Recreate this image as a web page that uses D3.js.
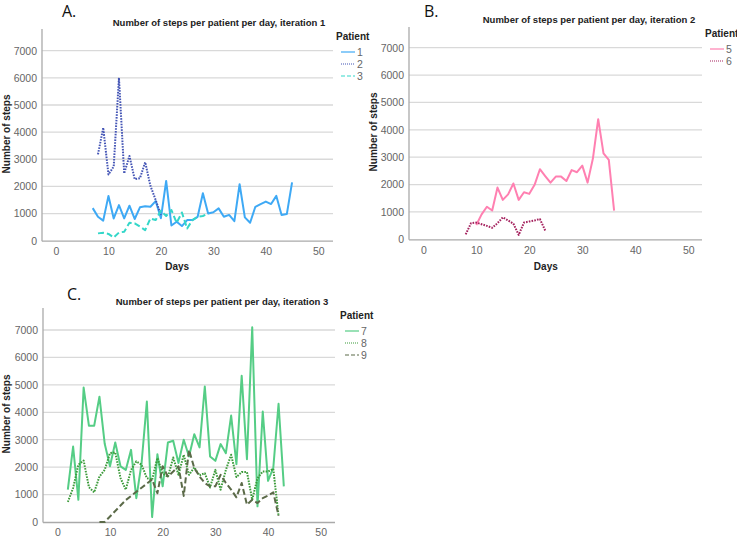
<!DOCTYPE html>
<html><head><meta charset="utf-8">
<script src="https://cdn.jsdelivr.net/npm/d3@7"></script>
<style>body{margin:0;background:#fff}svg{display:block}</style>
</head><body>
<script>
// ---------- DATA ----------
const xTicks = [0, 10, 20, 30, 40, 50];
const yTicks = [0, 1000, 2000, 3000, 4000, 5000, 6000, 7000];

const p1Days = [7,8,9,10,11,12,13,14,15,16,17,18,19,20,21,22,23,24,25,26,27,28,29,30,31,32,33,34,35,36,37,38,39,40,41,42,43,44,45];
const p1Steps = [1200,880,740,1650,820,1310,820,1290,800,1230,1270,1250,1460,830,2200,560,700,540,760,760,880,1750,1000,1050,1190,880,950,720,2080,860,660,1250,1350,1440,1350,1650,950,980,2150];
const p2Days = [8,9,10,11,12,13,14,15,16,17,18,19,20];
const p2Steps = [3180,4160,2440,2730,6000,2480,3120,2270,2300,2890,2020,1500,950];
const p3Days = [8,9,10,11,12,13,14,15,16,17,18,19,20,21,22,23,24,25,26,27,28,29];
const p3Steps = [270,290,250,120,300,330,660,640,520,390,820,760,1100,910,1130,660,1040,450,760,880,910,1000];

const p5Days = [10,11,12,13,14,15,16,17,18,19,20,21,22,23,24,25,26,27,28,29,30,31,32,33,34,35,36];
const p5Steps = [520,910,1190,1050,1890,1440,1640,2040,1440,1720,1660,1990,2560,2310,2070,2290,2290,2130,2530,2450,2690,2070,2950,4390,3140,2900,1050];
const p6Days = [8,9,10,11,12,13,14,15,16,17,18,19,20,21,22,23];
const p6Steps = [180,590,610,550,490,420,590,800,690,570,160,610,650,690,740,320];

const p7Days = [2,3,4,5,6,7,8,9,10,11,12,13,14,15,16,17,18,19,20,21,22,23,24,25,26,27,28,29,30,31,32,33,34,35,36,37,38,39,40,41,42,43];
const p7Steps = [1180,2750,810,4900,3510,3510,4570,2850,2030,2900,2030,1900,2630,870,2150,4390,180,2470,1300,2900,2960,2150,3000,2390,3200,2720,4940,2390,2230,2840,2510,3880,2110,5330,2290,7100,570,4030,1500,1970,4310,1300];
const p8Days = [2,3,4,5,6,7,8,9,10,11,12,13,14,15,16,17,18,19,20,21,22,23,24,25,26,27,28,29,30,31,32,33,34,35,36,37,38,39,40,41,42];
const p8Steps = [730,1240,2090,2240,1270,1080,1660,1900,2510,2540,1600,1180,1900,2210,2090,1600,1540,2330,1780,1640,2350,1720,2450,1720,1990,1700,1780,1260,1900,1180,1900,2450,1640,1820,1820,810,1600,1840,1840,1940,220];
const p9Days = [8,9,10,11,12,13,14,15,16,17,18,19,20,21,22,23,24,25,26,27,28,29,30,31,32,33,34,35,36,37,38,39,40,41,42];
const p9Steps = [0,0,200,400,600,800,950,1100,1250,1400,1550,1050,2030,1660,1840,2030,950,2630,1970,1660,1420,1300,1300,1720,1420,1180,900,1420,630,810,690,870,960,1080,230];

// ---------- DRAW ----------
const W = 737, H = 537;
const svg = d3.select("body").append("svg").attr("width", W).attr("height", H);
const font = "'Liberation Sans', Arial, sans-serif";

const panels = [
  {letter:"A.", lx:62, ly:17, title:"Number of steps per patient per day, iteration 1", tx:219, ty:26,
   axisX:42, x0:56, x50:318.3, right:333, top:29, y0:240.7, y7k:50.7, ylabX:7, ylabY:134, daysY:270,
   legX:336, legY:40, series:[
     {name:"1", days:p1Days, steps:p1Steps, color:"#3ea9f5", dash:null},
     {name:"2", days:p2Days, steps:p2Steps, color:"#4354b5", dash:"1.6,1.2"},
     {name:"3", days:p3Days, steps:p3Steps, color:"#34d7c9", dash:"6,3"}]},
  {letter:"B.", lx:424, ly:17, title:"Number of steps per patient per day, iteration 2", tx:589, ty:23,
   axisX:409, x0:423.3, x50:688.3, right:702, top:27, y0:239.3, y7k:47.7, ylabX:374, ylabY:132, daysY:270,
   legX:705, legY:37, series:[
     {name:"5", days:p5Days, steps:p5Steps, color:"#ff80b1", dash:null},
     {name:"6", days:p6Days, steps:p6Steps, color:"#a5235f", dash:"1.6,1.2"}]},
  {letter:"C.", lx:67, ly:300, title:"Number of steps per patient per day, iteration 3", tx:222, ty:305,
   axisX:43, x0:57.3, x50:320.7, right:335, top:308, y0:522, y7k:330, ylabX:7, ylabY:414, daysY:null,
   legX:340, legY:319, series:[
     {name:"7", days:p7Days, steps:p7Steps, color:"#55cd85", dash:null},
     {name:"8", days:p8Days, steps:p8Steps, color:"#3d9b3b", dash:"1.6,1.2"},
     {name:"9", days:p9Days, steps:p9Steps, color:"#5b6a48", dash:"6,3"}]}
];

panels.forEach(p => {
  const g = svg.append("g");
  const x = d3.scaleLinear().domain([0,50]).range([p.x0, p.x50]);
  const y = d3.scaleLinear().domain([0,7000]).range([p.y0, p.y7k]);

  g.append("text").attr("x", p.lx).attr("y", p.ly).text(p.letter)
    .attr("font-family", "'Open Sans', 'Liberation Sans', sans-serif").attr("font-size", 16).attr("fill", "#111");
  g.append("text").attr("x", p.tx).attr("y", p.ty).attr("text-anchor","middle").text(p.title)
    .attr("font-family", font).attr("font-size", 9.5).attr("font-weight","bold").attr("fill","#222");

  // gridlines
  g.selectAll(".grid").data(yTicks.filter(d=>d>0)).join("line")
    .attr("x1", p.axisX).attr("x2", p.right).attr("y1", d=>y(d)).attr("y2", d=>y(d))
    .attr("stroke", "#d9d9d9").attr("stroke-width", 1.3);

  // y axis
  const ya = d3.axisLeft(y).tickValues(yTicks).tickSize(0).tickPadding(5).tickFormat(d3.format("d"));
  const yg = g.append("g").attr("transform", `translate(${p.axisX},0)`).call(ya);
  yg.select(".domain").remove();
  yg.selectAll("text").attr("font-family", font).attr("font-size", 10.5).attr("fill", "#666");
  g.append("line").attr("x1", p.axisX).attr("x2", p.axisX).attr("y1", p.top).attr("y2", p.y0+0.5)
    .attr("stroke", "#aaa").attr("stroke-width", 1.3);

  // x axis
  const xa = d3.axisBottom(x).tickValues(xTicks).tickSize(0).tickPadding(7);
  const xg = g.append("g").attr("transform", `translate(0,${p.y0})`).call(xa);
  xg.select(".domain").remove();
  xg.selectAll("text").attr("font-family", font).attr("font-size", 10.5).attr("fill", "#666");
  g.append("line").attr("x1", p.axisX).attr("x2", p.right).attr("y1", p.y0+0.5).attr("y2", p.y0+0.5)
    .attr("stroke", "#aaa").attr("stroke-width", 1.3);

  g.append("text").attr("transform", `translate(${p.ylabX},${p.ylabY}) rotate(-90)`)
    .attr("text-anchor","middle").attr("dominant-baseline","middle").text("Number of steps")
    .attr("font-family", font).attr("font-size", 10).attr("font-weight","bold").attr("fill","#222");
  if (p.daysY !== null) {
    g.append("text").attr("x", (p.x0+p.x50)/2 - 10).attr("y", p.daysY).attr("text-anchor","middle").text("Days")
      .attr("font-family", font).attr("font-size", 10).attr("font-weight","bold").attr("fill","#222");
  }

  const line = d3.line().x(d=>x(d[0])).y(d=>y(d[1]));
  p.series.forEach(s => {
    const pts = s.days.map((d,i)=>[d, s.steps[i]]);
    g.append("path").attr("d", line(pts)).attr("fill","none").attr("stroke", s.color)
      .attr("stroke-width", 2).attr("stroke-linejoin","round")
      .attr("stroke-dasharray", s.dash);
  });

  // legend
  g.append("text").attr("x", p.legX).attr("y", p.legY).text("Patient")
    .attr("font-family", font).attr("font-size", 10).attr("font-weight","bold").attr("fill","#222");
  p.series.forEach((s,i) => {
    const ly = p.legY + 12 + i*12;
    g.append("line").attr("x1", p.legX+5).attr("x2", p.legX+19).attr("y1", ly).attr("y2", ly)
      .attr("stroke", s.color).attr("stroke-width", 1.2).attr("stroke-dasharray", s.dash ? (s.dash==="6,3"?"4,2":"1,1") : null);
    g.append("text").attr("x", p.legX+21).attr("y", ly+4).text(s.name)
      .attr("font-family", font).attr("font-size", 10.5).attr("fill","#666");
  });
});
</script>
</body></html>
